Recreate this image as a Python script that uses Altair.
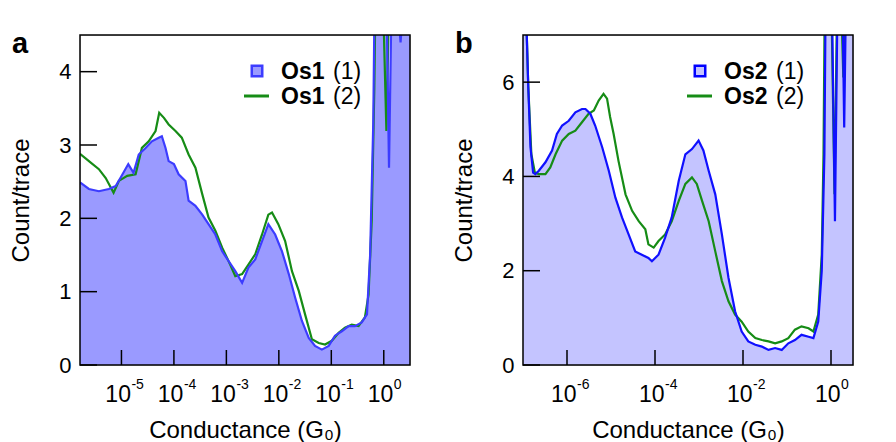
import altair as alt
import numpy as np
import pandas as pd

# ---------------- data (log10 conductance, count/trace) ----------------
a_blue_lg = [-5.79, -5.62, -5.43, -5.24, -5.11, -5.02, -4.87, -4.77, -4.67, -4.54, -4.42, -4.29, -4.23,
             -4.16, -4.10, -4.00, -3.91, -3.78, -3.72, -3.59, -3.46, -3.34, -3.21, -3.08, -2.96, -2.83,
             -2.70, -2.58, -2.45, -2.32, -2.20, -2.07, -1.94, -1.81, -1.69, -1.56, -1.43, -1.31, -1.18,
             -1.05, -0.93, -0.80, -0.67, -0.55, -0.42, -0.32, -0.26, -0.20, -0.16, 0.06, 0.10, 0.14,
             0.30, 0.32, 0.34, 0.50]
a_blue_cnt = [2.49, 2.40, 2.37, 2.40, 2.44, 2.55, 2.74, 2.62, 2.87, 2.96, 3.05, 3.10, 3.12,
              2.96, 2.78, 2.74, 2.60, 2.51, 2.24, 2.17, 2.05, 1.92, 1.78, 1.55, 1.42, 1.28,
              1.12, 1.33, 1.44, 1.69, 1.92, 1.78, 1.55, 1.24, 0.92, 0.60, 0.37, 0.26, 0.21,
              0.26, 0.40, 0.46, 0.53, 0.53, 0.58, 0.69, 1.50, 3.30, 6.00, 4.60, 2.69, 4.60,
              4.60, 4.40, 4.60, 6.00]

a_green_lg = [-5.79, -5.62, -5.43, -5.30, -5.15, -5.05, -4.89, -4.73, -4.61, -4.48, -4.35, -4.28, -4.19,
              -4.10, -3.97, -3.85, -3.72, -3.59, -3.46, -3.34, -3.21, -3.08, -2.96, -2.83, -2.70, -2.58,
              -2.45, -2.32, -2.20, -2.13, -2.01, -1.88, -1.75, -1.62, -1.50, -1.37, -1.24, -1.12, -0.99,
              -0.86, -0.74, -0.61, -0.48, -0.36, -0.29, -0.23, -0.18, -0.14, 0.00, 0.05, 0.09, 0.50]
a_green_cnt = [2.88, 2.78, 2.67, 2.55, 2.35, 2.51, 2.58, 2.60, 2.96, 3.05, 3.19, 3.44, 3.37,
               3.28, 3.19, 3.10, 2.87, 2.69, 2.33, 2.01, 1.83, 1.60, 1.42, 1.21, 1.24, 1.37,
               1.51, 1.78, 2.05, 2.08, 1.92, 1.69, 1.28, 1.01, 0.69, 0.35, 0.30, 0.28, 0.33,
               0.44, 0.51, 0.55, 0.53, 0.65, 0.96, 1.96, 3.78, 6.00, 4.60, 3.19, 4.60, 6.00]

b_blue_lg = [-7.00, -6.93, -6.88, -6.83, -6.77, -6.72, -6.64, -6.49, -6.34, -6.23, -6.11, -5.96, -5.81,
             -5.66, -5.58, -5.47, -5.36, -5.20, -5.05, -4.90, -4.75, -4.60, -4.45, -4.30, -4.15, -4.07,
             -3.92, -3.77, -3.62, -3.46, -3.31, -3.16, -3.01, -2.90, -2.78, -2.63, -2.48, -2.33, -2.18,
             -2.03, -1.88, -1.72, -1.57, -1.42, -1.27, -1.12, -0.97, -0.82, -0.67, -0.51, -0.40, -0.29,
             -0.21, -0.15, -0.12, 0.03, 0.09, 0.14, 0.27, 0.30, 0.33, 0.50]
b_blue_cnt = [10.0, 7.50, 5.90, 4.62, 4.08, 4.05, 4.12, 4.30, 4.55, 4.90, 5.08, 5.18, 5.36,
              5.43, 5.43, 5.33, 5.08, 4.62, 4.12, 3.55, 3.13, 2.77, 2.41, 2.34, 2.27, 2.20,
              2.34, 2.70, 3.13, 3.91, 4.47, 4.58, 4.76, 4.55, 4.12, 3.62, 2.77, 1.85, 1.14,
              0.71, 0.50, 0.43, 0.39, 0.32, 0.36, 0.32, 0.46, 0.53, 0.64, 0.60, 0.57, 0.92,
              2.00, 4.47, 8.00, 7.10, 3.05, 7.10, 7.10, 5.04, 7.10, 10.0]

b_green_lg = [-6.93, -6.88, -6.81, -6.73, -6.64, -6.49, -6.38, -6.26, -6.11, -5.96, -5.81, -5.66, -5.51,
              -5.39, -5.28, -5.17, -5.09, -5.02, -4.94, -4.83, -4.67, -4.52, -4.37, -4.22, -4.15, -4.03,
              -3.92, -3.77, -3.62, -3.46, -3.31, -3.16, -3.05, -2.93, -2.78, -2.63, -2.48, -2.33, -2.18,
              -2.03, -1.88, -1.72, -1.57, -1.42, -1.27, -1.12, -0.97, -0.82, -0.67, -0.51, -0.40, -0.29,
              -0.21, -0.17, -0.14, 0.02, 0.08, 0.13, 0.25, 0.28, 0.31, 0.50]
b_green_cnt = [7.50, 5.90, 4.47, 4.08, 4.05, 4.05, 4.19, 4.47, 4.76, 4.90, 4.97, 5.15, 5.33,
               5.40, 5.61, 5.75, 5.65, 5.26, 4.90, 4.33, 3.62, 3.27, 3.05, 2.88, 2.56, 2.49,
               2.63, 2.77, 3.05, 3.48, 3.84, 3.98, 3.84, 3.48, 3.05, 2.41, 1.78, 1.35, 1.07,
               0.92, 0.71, 0.57, 0.53, 0.50, 0.46, 0.50, 0.57, 0.75, 0.82, 0.78, 0.71, 1.07,
               2.34, 4.47, 8.00, 7.10, 3.62, 7.10, 7.10, 6.10, 7.10, 8.00]

a_x_exp = [-5, -4, -3, -2, -1, 0]
b_x_exp = [-6, -4, -2, 0]
a_y_ticks = [0, 1, 2, 3, 4]
b_y_ticks = [0, 2, 4, 6]
a_legend = ["Os1", "Os1"]
b_legend = ["Os2", "Os2"]
legend_nums = ["(1)", "(2)"]

FONT = "Liberation Sans"
W = 330
H = 330
GREEN = "#168c16"


def panel(letter, blue_lg, blue_cnt, green_lg, green_cnt, xdom, ymax, x_exp, y_ticks,
          names, fill, blue_line, sq_stroke):
    xscale = alt.Scale(type="log", domain=[10 ** xdom[0], 10 ** xdom[1]], nice=False)
    yscale = alt.Scale(domain=[0, ymax], nice=False, zero=False)
    xaxis = alt.Axis(values=[10.0 ** e for e in x_exp], labelExpr="'10'",
                     labelAlign="right", labelOffset=9, labelPadding=18,
                     labelFontSize=23, labelFont=FONT, labelColor="black",
                     ticks=False, tickSize=0, domain=False, grid=False,
                     title="Conductance (G₀)", titleFont=FONT, titleFontSize=24,
                     titleFontWeight="normal", titleColor="black", titlePadding=12)
    yaxis = alt.Axis(values=y_ticks, ticks=False, tickSize=0, domain=False, grid=False,
                     labelFontSize=22, labelFont=FONT, labelColor="black", labelPadding=9,
                     title="Count/trace", titleFont=FONT, titleFontSize=24,
                     titleFontWeight="normal", titleColor="black", titlePadding=25)
    X = alt.X("G:Q", scale=xscale, axis=xaxis)
    Y = alt.Y("count:Q", scale=yscale, axis=yaxis)

    dblue = pd.DataFrame({"G": 10 ** np.array(blue_lg), "count": blue_cnt})
    dgreen = pd.DataFrame({"G": 10 ** np.array(green_lg), "count": green_cnt})
    xt = pd.DataFrame({"G": [10.0 ** e for e in x_exp], "e": [str(e) for e in x_exp]})
    yt = pd.DataFrame({"count": y_ticks})

    area = alt.Chart(dblue).mark_area(color=fill, opacity=1, clip=True).encode(x=X, y=Y)
    gline = alt.Chart(dgreen).mark_line(color=GREEN, strokeWidth=2.2, clip=True).encode(x=X, y=Y)
    bline = alt.Chart(dblue).mark_line(color=blue_line, strokeWidth=2.2, clip=True).encode(x=X, y=Y)
    xticks = alt.Chart(xt).mark_rule(color="black", strokeWidth=1.5).encode(
        x=X, y=alt.value(H), y2=alt.value(H - 15))
    yticks = alt.Chart(yt).mark_rule(color="black", strokeWidth=1.5).encode(
        y=Y, x=alt.value(0), x2=alt.value(17))
    expo = alt.Chart(xt).mark_text(align="left", baseline="alphabetic", dx=10, fontSize=14,
                                   font=FONT, color="black").encode(
        x=X, y=alt.value(H + 24), text="e:N")
    frame = alt.Chart(pd.DataFrame({"k": [0]})).mark_rect(
        fill=None, fillOpacity=0, stroke="black", strokeWidth=1.5).encode(
        x=alt.value(0), x2=alt.value(W), y=alt.value(0), y2=alt.value(H))
    letter_t = alt.Chart(pd.DataFrame({"t": [letter]})).mark_text(
        align="left", baseline="alphabetic", fontSize=29, fontWeight="bold", font=FONT,
        color="black").encode(x=alt.value(-68), y=alt.value(18), text="t:N")

    leg_name = alt.Chart(pd.DataFrame({"t": names, "y": [37, 62]})).mark_text(
        align="left", baseline="middle", fontSize=23, fontWeight="bold", font=FONT,
        color="black").encode(x=alt.value(201), y=alt.Y("y:Q", scale=None), text="t:N")
    leg_num = alt.Chart(pd.DataFrame({"t": legend_nums, "y": [37, 62]})).mark_text(
        align="left", baseline="middle", fontSize=23, font=FONT,
        color="black").encode(x=alt.value(253), y=alt.Y("y:Q", scale=None), text="t:N")
    leg_sq = alt.Chart(pd.DataFrame({"k": [0]})).mark_square(
        size=110, fill=fill, stroke=sq_stroke, strokeWidth=2.5, opacity=1).encode(
        x=alt.value(177), y=alt.value(36))
    leg_line = alt.Chart(pd.DataFrame({"k": [0]})).mark_rule(
        color=GREEN, strokeWidth=3).encode(x=alt.value(164), x2=alt.value(189), y=alt.value(61))

    return alt.layer(area, gline, bline, xticks, yticks, frame, expo, letter_t,
                     leg_sq, leg_line, leg_name, leg_num).properties(width=W, height=H)


pa = panel("a", a_blue_lg, a_blue_cnt, a_green_lg, a_green_cnt, (-5.79, 0.5), 4.5, a_x_exp,
           a_y_ticks, a_legend, "#9a9aff", "#3c3cff", "#3c3cff")
pb = panel("b", b_blue_lg, b_blue_cnt, b_green_lg, b_green_cnt, (-7.0, 0.5), 7.0, b_x_exp,
           b_y_ticks, b_legend, "#c4c4ff", "#1010ff", "#0000ff")

chart = alt.hconcat(pa, pb, spacing=40).properties(
    padding={"left": 1, "top": 21, "right": 5, "bottom": 0}
).configure_view(stroke=None).configure(background="white")

chart.save("out.html", embed_options={"renderer": "svg", "actions": False})
